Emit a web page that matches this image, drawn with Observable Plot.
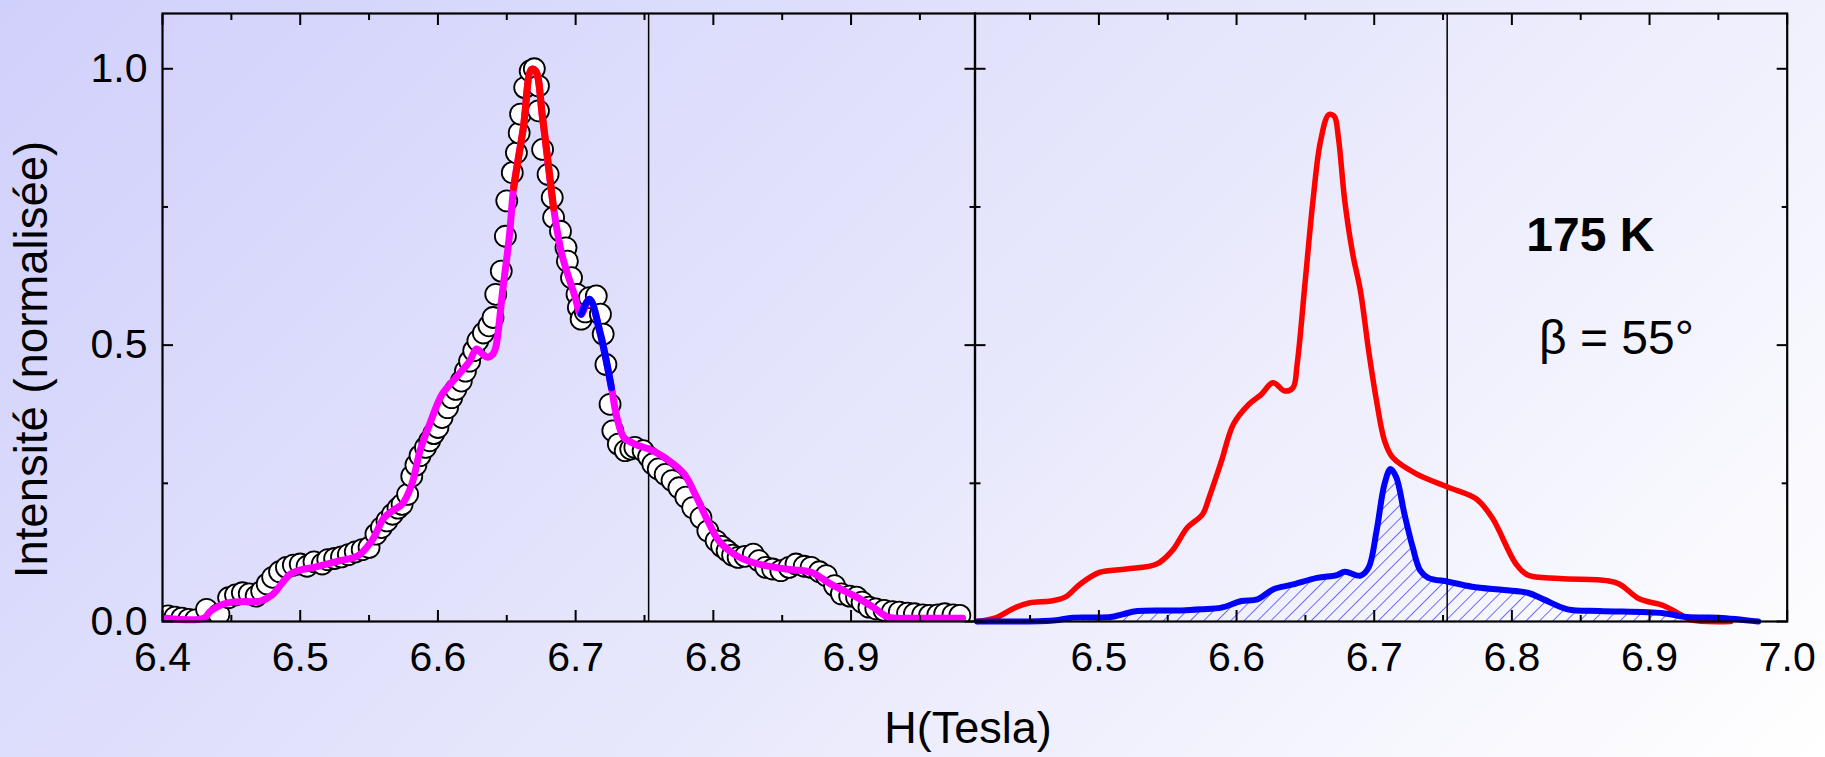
<!DOCTYPE html>
<html>
<head>
<meta charset="utf-8">
<script src="https://cdn.jsdelivr.net/npm/d3@7"></script>
<script src="https://cdn.jsdelivr.net/npm/@observablehq/plot@0.6"></script>
<style>
html, body { margin: 0; padding: 0; }
body {
  width: 1825px; height: 757px; overflow: hidden;
  background: linear-gradient(135deg, #d0d0fc 0%, #e6e6fc 50%, #ffffff 100%);
  font-family: "Liberation Sans", Arial, sans-serif;
}
#wrap { position: relative; width: 1825px; height: 757px; }
#left, #right { position: absolute; top: 0; }
#left { left: 0; }
#right { left: 964px; }
#xlabel {
  position: absolute; left: 768px; width: 400px; top: 706px;
  text-align: center; font-size: 45px; line-height: 44px; color: #000;
}
</style>
</head>
<body>
<div id="wrap">
  <div id="left"></div>
  <div id="right"></div>
  <div id="xlabel">H(Tesla)</div>
</div>
<script>
// ---------- data ----------
// Left panel: measured points (open circles)
const circH = [6.404,6.409,6.414,6.419,6.424,6.432,6.441,6.448,6.453,6.458,6.463,6.468,6.472,6.476,6.480,6.485,6.490,6.495,6.500,6.505,6.510,6.516,6.520,6.525,6.530,6.535,6.540,6.545,6.550,6.555,6.559,6.563,6.567,6.571,6.574,6.578,6.581,6.584,6.587,6.591,6.594,6.597,6.600,6.603,6.607,6.610,6.613,6.617,6.620,6.623,6.626,6.629,6.633,6.637,6.640,6.642,6.646,6.649,6.650,6.654,6.657,6.659,6.660,6.663,6.667,6.670,6.673,6.673,6.676,6.680,6.683,6.684,6.689,6.693,6.694,6.697,6.701,6.702,6.704,6.707,6.710,6.715,6.718,6.720,6.722,6.725,6.727,6.731,6.736,6.740,6.743,6.749,6.753,6.756,6.760,6.765,6.770,6.775,6.780,6.785,6.791,6.796,6.802,6.806,6.810,6.814,6.818,6.823,6.829,6.833,6.838,6.843,6.849,6.855,6.860,6.866,6.871,6.877,6.882,6.888,6.893,6.899,6.904,6.908,6.913,6.918,6.924,6.930,6.935,6.941,6.946,6.952,6.957,6.963,6.968,6.974,6.979];
const circI = [0.010,0.008,0.006,0.004,0.003,0.022,0.013,0.043,0.048,0.052,0.050,0.046,0.055,0.068,0.080,0.090,0.098,0.102,0.104,0.100,0.108,0.104,0.112,0.114,0.117,0.121,0.126,0.130,0.134,0.158,0.170,0.182,0.194,0.205,0.212,0.230,0.263,0.283,0.300,0.315,0.327,0.340,0.351,0.369,0.387,0.405,0.420,0.435,0.453,0.471,0.490,0.508,0.522,0.535,0.550,0.592,0.634,0.697,0.761,0.812,0.848,0.884,0.918,0.966,0.996,1.000,0.969,0.924,0.854,0.809,0.767,0.731,0.706,0.676,0.652,0.622,0.592,0.568,0.547,0.560,0.586,0.589,0.556,0.520,0.465,0.393,0.345,0.321,0.309,0.312,0.315,0.309,0.298,0.285,0.276,0.266,0.255,0.242,0.225,0.206,0.188,0.164,0.146,0.136,0.128,0.120,0.116,0.118,0.122,0.110,0.098,0.095,0.092,0.098,0.104,0.100,0.098,0.090,0.083,0.065,0.050,0.046,0.044,0.035,0.026,0.023,0.020,0.018,0.017,0.015,0.014,0.012,0.011,0.012,0.014,0.012,0.011];

// Left panel: fitted curve (magenta), with peak (red) and shoulder (blue) parts
const fitH = [6.403,6.430,6.435,6.448,6.460,6.471,6.480,6.487,6.493,6.500,6.510,6.529,6.542,6.552,6.561,6.568,6.574,6.581,6.587,6.594,6.603,6.613,6.623,6.628,6.632,6.636,6.640,6.642,6.647,6.652,6.655,6.662,6.668,6.671,6.676,6.684,6.690,6.699,6.704,6.710,6.718,6.726,6.730,6.735,6.743,6.756,6.771,6.779,6.788,6.796,6.804,6.815,6.827,6.838,6.855,6.871,6.885,6.904,6.916,6.927,6.946,6.981];
const fitI = [0.006,0.006,0.019,0.034,0.036,0.037,0.049,0.070,0.086,0.093,0.098,0.110,0.119,0.146,0.188,0.202,0.212,0.248,0.309,0.357,0.411,0.441,0.471,0.493,0.485,0.478,0.484,0.496,0.598,0.700,0.785,0.893,0.999,0.996,0.911,0.748,0.664,0.592,0.556,0.583,0.520,0.423,0.369,0.333,0.321,0.309,0.285,0.266,0.224,0.182,0.146,0.122,0.108,0.101,0.094,0.089,0.068,0.044,0.026,0.008,0.006,0.006];
const peakH = [6.655,6.662,6.668,6.671,6.676,6.684];
const peakI = [0.785,0.893,0.999,0.996,0.911,0.748];
const shoulderH = [6.704,6.710,6.718,6.726];
const shoulderI = [0.556,0.583,0.520,0.423];

// Right panel: red and blue spectra
const redH = [6.4116,6.4255,6.439,6.450,6.465,6.4754,6.4865,6.5004,6.520,6.542,6.5532,6.5643,6.5753,6.580,6.589,6.5977,6.609,6.618,6.6265,6.635,6.641,6.644,6.6497,6.6555,6.661,6.667,6.671,6.674,6.6786,6.6844,6.690,6.696,6.7017,6.7075,6.7133,6.7306,6.7537,6.774,6.7856,6.803,6.8115,6.8347,6.869,6.878,6.8925,6.9099,6.9214,6.930,6.959];
const redI = [0.000,0.007,0.025,0.034,0.037,0.044,0.068,0.089,0.095,0.104,0.128,0.170,0.194,0.224,0.290,0.357,0.393,0.411,0.432,0.417,0.423,0.465,0.611,0.761,0.869,0.917,0.914,0.875,0.761,0.665,0.598,0.489,0.399,0.327,0.297,0.267,0.243,0.222,0.188,0.104,0.084,0.078,0.074,0.068,0.041,0.029,0.014,0.003,0.000];
const blueH = [6.4116,6.467,6.481,6.5085,6.517,6.528,6.560,6.5745,6.589,6.6035,6.615,6.6265,6.641,6.6584,6.673,6.6786,6.690,6.696,6.7017,6.7075,6.7118,6.716,6.722,6.728,6.7335,6.7393,6.7537,6.771,6.794,6.8115,6.823,6.8405,6.8636,6.9099,6.9272,6.9503,6.979];
const blueI = [0.000,0.002,0.007,0.008,0.013,0.019,0.020,0.022,0.025,0.037,0.040,0.058,0.067,0.079,0.084,0.090,0.083,0.098,0.164,0.249,0.276,0.261,0.194,0.134,0.092,0.079,0.072,0.063,0.057,0.052,0.040,0.022,0.019,0.015,0.008,0.007,0.000];

const vlineH = [6.753];
const leftMajor = [6.4, 6.5, 6.6, 6.7, 6.8, 6.9];
const rightMajor = [6.5, 6.6, 6.7, 6.8, 6.9, 7.0];
const xMinor = [6.45, 6.55, 6.65, 6.75, 6.85, 6.95];
const yMajor = [0, 0.5, 1.0];
const yMinor = [0.25, 0.75];
const yLabel = "Intensité (normalisée)";
const tempLabel = "175 K";
const angleLabel = "β = 55°";

// ---------- helpers ----------
const pts = (H, I) => H.map((h, i) => ({H: h, I: I[i]}));
const FONT = "Liberation Sans, Arial, sans-serif";
const fmt = d3.format(".1f");

function frameAxes(major, minor, showBottomLabels, yLabelsLeft) {
  const s = 2;
  return [
    Plot.axisX({anchor: "bottom", ticks: major, tickSize: -11, tickPadding: 31, strokeWidth: s,
      fontSize: 41, tickFormat: fmt, label: null, fill: showBottomLabels ? "black" : "none"}),
    Plot.axisX({anchor: "bottom", ticks: minor, tickSize: -6, strokeWidth: s, fill: "none", label: null}),
    Plot.axisX({anchor: "top", ticks: major, tickSize: -11, strokeWidth: s, fill: "none", label: null}),
    Plot.axisX({anchor: "top", ticks: minor, tickSize: -6, strokeWidth: s, fill: "none", label: null}),
    Plot.axisY({anchor: "left", ticks: yMajor, tickSize: -11, tickPadding: 26, strokeWidth: s,
      fontSize: 41, tickFormat: fmt, label: null, fill: yLabelsLeft ? "black" : "none"}),
    Plot.axisY({anchor: "left", ticks: yMinor, tickSize: -6, strokeWidth: s, fill: "none", label: null}),
    Plot.axisY({anchor: "right", ticks: yMajor, tickSize: -11, strokeWidth: s, fill: "none", label: null}),
    Plot.axisY({anchor: "right", ticks: yMinor, tickSize: -6, strokeWidth: s, fill: "none", label: null}),
    Plot.frame({stroke: "black", strokeWidth: 2.2})
  ];
}

// ---------- left panel ----------
const leftPlot = Plot.plot({
  width: 985, height: 757,
  marginLeft: 162, marginRight: 10.5, marginTop: 13, marginBottom: 136,
  style: {background: "transparent", fontFamily: FONT, overflow: "visible", color: "black"},
  x: {domain: [6.4, 6.99]},
  y: {domain: [0, 1.1]},
  marks: [
    Plot.ruleX(vlineH, {stroke: "black", strokeWidth: 1.5}),
    Plot.dot(pts(circH, circI), {x: "H", y: "I", r: 10.5, fill: "white", stroke: "black", strokeWidth: 1.8, clip: true}),
    Plot.line(pts(fitH, fitI), {x: "H", y: "I", stroke: "#ff00ff", strokeWidth: 7, curve: "catmull-rom"}),
    Plot.line(pts(peakH, peakI), {x: "H", y: "I", stroke: "#ff0000", strokeWidth: 7, curve: "catmull-rom"}),
    Plot.line(pts(shoulderH, shoulderI), {x: "H", y: "I", stroke: "#0000ff", strokeWidth: 7, curve: "catmull-rom"}),
    ...frameAxes(leftMajor, xMinor, true, true),
    Plot.text([yLabel], {text: d => d, frameAnchor: "left", textAnchor: "middle", lineAnchor: "middle",
      rotate: -90, dx: -130, dy: 42, fontSize: 45.5, fill: "black"})
  ]
});
document.getElementById("left").appendChild(leftPlot);

// ---------- right panel ----------
const rightPlot = Plot.plot({
  width: 861, height: 757,
  marginLeft: 10.5, marginRight: 38.3, marginTop: 13, marginBottom: 136,
  style: {background: "transparent", fontFamily: FONT, overflow: "visible", color: "black"},
  x: {domain: [6.41, 7.0]},
  y: {domain: [0, 1.1]},
  marks: [
    Plot.areaY(pts(blueH, blueI), {x: "H", y: "I", fill: "#0000ff", curve: "catmull-rom"}),
    Plot.ruleX(vlineH, {stroke: "black", strokeWidth: 1.5}),
    Plot.line(pts(redH, redI), {x: "H", y: "I", stroke: "#ff0000", strokeWidth: 5.5, curve: "catmull-rom"}),
    Plot.line(pts(blueH, blueI), {x: "H", y: "I", stroke: "#0000ff", strokeWidth: 6, curve: "catmull-rom"}),
    ...frameAxes(rightMajor, xMinor, true, false),
    Plot.text([tempLabel], {text: d => d, x: 6.857, y: 0.698, fontSize: 48, fontWeight: "bold", fill: "black"}),
    Plot.text([angleLabel], {text: d => d, x: 6.876, y: 0.512, fontSize: 48, fill: "black"})
  ]
});
// hatch pattern for the area under the blue curve
const rsvg = d3.select(rightPlot);
rsvg.insert("defs", ":first-child").html(
  '<pattern id="hatch" patternUnits="userSpaceOnUse" width="9.5" height="9.5" patternTransform="rotate(45)">' +
  '<line x1="0" y1="-1" x2="0" y2="10.5" stroke="#0000ff" stroke-width="1.1"/></pattern>');
rsvg.selectAll('g[aria-label="area"] path').attr("fill", "url(#hatch)");
document.getElementById("right").appendChild(rightPlot);
</script>
</body>
</html>
